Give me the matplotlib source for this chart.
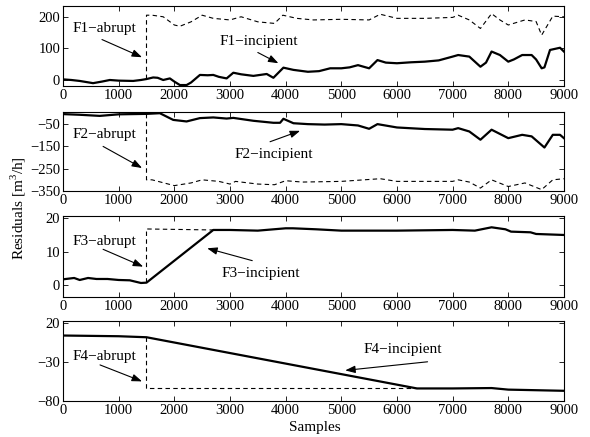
import matplotlib
matplotlib.use("Agg")
import matplotlib.pyplot as plt

plt.rcParams['font.family'] = ['Liberation Serif', 'DejaVu Serif']
plt.rcParams['mathtext.fontset'] = 'custom'
plt.rcParams['mathtext.rm'] = 'Liberation Serif'

# F1 residuals
f1_inc_x = [0, 150, 300, 540, 700, 840, 1000, 1260, 1400, 1500,
            1620, 1700, 1800, 1920, 2000, 2100, 2220, 2300, 2460, 2600,
            2700, 2800, 2940, 3060, 3200, 3420, 3660, 3780, 3960, 4140,
            4400, 4600, 4800, 5000, 5150, 5300, 5500, 5650, 5800, 6000,
            6250, 6500, 6750, 7000, 7100, 7300, 7500, 7600, 7700, 7850,
            8000, 8100, 8250, 8420, 8500, 8600, 8650, 8750, 8930, 9000]
f1_inc_y = [2, 0, -3, -10, -5, 0, -2, -3, 0, 3,
            8, 7, 0, 5, -5, -16, -16, -8, 16, 15,
            16, 10, 5, 23, 18, 13, 19, 7, 39, 32,
            26, 28, 37, 37, 40, 47, 37, 63, 55, 53,
            56, 58, 62, 74, 79, 74, 42, 55, 90, 79,
            58, 65, 79, 79, 65, 37, 40, 95, 102, 90]
f1_abr_x = [1500, 1500, 1600, 1800, 2000, 2100, 2300, 2500, 2700, 3000,
            3200, 3500, 3800, 3950, 4200, 4500, 5000, 5500, 5700, 6000,
            6500, 7000, 7100, 7300, 7500, 7700, 7850, 8000, 8300, 8500,
            8600, 8800, 9000]
f1_abr_y = [3, 205, 205, 200, 174, 170, 184, 205, 195, 190,
            200, 184, 179, 205, 195, 190, 192, 190, 208, 195,
            195, 198, 205, 190, 163, 210, 190, 174, 190, 185,
            142, 202, 200]

# F2 residuals
f2_inc_x = [0, 300, 660, 1000, 1500, 1740, 1980, 2220, 2460, 2700,
            2940, 3060, 3420, 3780, 3900, 3960, 4140, 4400, 4700, 5000,
            5300, 5500, 5650, 6000, 6500, 7000, 7100, 7300, 7500, 7700,
            8000, 8250, 8420, 8650, 8800, 8930, 9000]
f2_inc_y = [-5, -8, -13, -6, -4, -1, -31, -38, -23, -20,
            -25, -22, -35, -44, -44, -26, -46, -50, -52, -50,
            -56, -71, -50, -65, -72, -75, -68, -83, -120, -75,
            -113, -98, -105, -155, -98, -98, -113]
f2_abr_x = [1500, 1500, 1600, 2000, 2300, 2500, 2800, 3000, 3100, 3500,
            3800, 4000, 4300, 5000, 5700, 6000, 6500, 7000, 7100, 7300,
            7500, 7700, 8000, 8300, 8600, 8800, 9000]
f2_abr_y = [-4, -300, -300, -326, -314, -300, -307, -319, -307, -319,
            -322, -304, -310, -307, -295, -307, -307, -307, -300, -310,
            -337, -300, -330, -314, -344, -300, -295]

# F3 residuals
f3_inc_x = [0, 200, 300, 450, 600, 800, 1000, 1200, 1400, 1500,
            2700, 3000, 3500, 4000, 4130, 4550, 5000, 6000, 7000, 7400,
            7700, 7950, 8050, 8400, 8500, 9000]
f3_inc_y = [1.7, 2.1, 1.5, 2.1, 1.8, 1.8, 1.5, 1.4, 0.6, 0.7,
            16.5, 16.5, 16.3, 17, 17, 16.7, 16.3, 16.3, 16.5, 16.3,
            17.3, 16.7, 16.0, 15.8, 15.3, 15.0]
f3_abr_x = [1500, 1500, 2700]
f3_abr_y = [0.7, 16.8, 16.5]

# F4 residuals
f4_inc_x = [0, 1000, 1500, 6360, 7000, 7700, 8000, 9000]
f4_inc_y = [3.5, 2.6, 1.3, -64, -64, -63.5, -65.5, -67]
f4_abr_x = [1500, 1500, 6360]
f4_abr_y = [1.3, -63, -63]

ylims = [(-19, 234), (-350, 5), (-3.6, 20.7), (-80, 22)]
yticks = [[0, 100, 200], [-350, -250, -150, -50], [0, 10, 20], [-80, -30, 20]]
xticks = list(range(0, 9001, 1000))

# text (x, y) and arrow tail -> head, in data coordinates
labels = [
    ("F1\u2212abrupt", (740, 163), (700, 128), (1420, 72),
     "F1\u2212incipient", (3520, 121), (3500, 87), (3870, 53)),
    ("F2\u2212abrupt", (740, -98), (720, -150), (1420, -247),
     "F2\u2212incipient", (3780, -187), (3720, -129), (4260, -80)),
    ("F3\u2212abrupt", (740, 13), (720, 10.7), (1440, 5.5),
     "F3\u2212incipient", (3560, 3.5), (3400, 7.3), (2590, 11)),
    ("F4\u2212abrupt", (740, -23.5), (665, -34), (1420, -55),
     "F4\u2212incipient", (6100, -14.8), (6550, -30), (5070, -41)),
]

series = [(f1_inc_x, f1_inc_y, f1_abr_x, f1_abr_y),
          (f2_inc_x, f2_inc_y, f2_abr_x, f2_abr_y),
          (f3_inc_x, f3_inc_y, f3_abr_x, f3_abr_y),
          (f4_inc_x, f4_inc_y, f4_abr_x, f4_abr_y)]

fig = plt.figure(figsize=(5.9, 4.37), dpi=100)
bottoms = [0.8032, 0.563, 0.3204, 0.0824]
heights = [0.183, 0.181, 0.1854, 0.183]

arrow = dict(arrowstyle='-|>,head_length=0.6,head_width=0.22', color='black',
             lw=0.8, mutation_scale=10, shrinkA=0, shrinkB=0)

for i in range(4):
    ax = fig.add_axes([0.1068, bottoms[i], 0.849, heights[i]])
    xi, yi, xa, ya = series[i]
    ax.plot(xa, ya, color='black', lw=0.8, linestyle=(0, (4, 3)))
    ax.plot(xi, yi, color='black', lw=1.6)
    ax.set_xlim(0, 9000)
    ax.set_ylim(*ylims[i])
    ax.set_xticks(xticks)
    ax.set_yticks(yticks[i])
    ax.tick_params(direction='in', top=True, right=True, length=3.5,
                   width=0.6, labelsize=10.5, pad=2)
    for s in ax.spines.values():
        s.set_linewidth(0.8)
    t1, p1, a1, h1, t2, p2, a2, h2 = labels[i]
    ax.text(p1[0], p1[1], t1, ha='center', va='center', fontsize=11)
    ax.annotate('', xy=h1, xytext=a1, arrowprops=arrow)
    ax.text(p2[0], p2[1], t2, ha='center', va='center', fontsize=11)
    ax.annotate('', xy=h2, xytext=a2, arrowprops=arrow)

fig.text(0.533, 0.022, "Samples", ha='center', va='center', fontsize=11)
fig.text(0.031, 0.524, r"Residuals [m$^\mathrm{3}$/h]", rotation=90,
         ha='center', va='center', fontsize=11)

fig.savefig("out.png", dpi=100)
